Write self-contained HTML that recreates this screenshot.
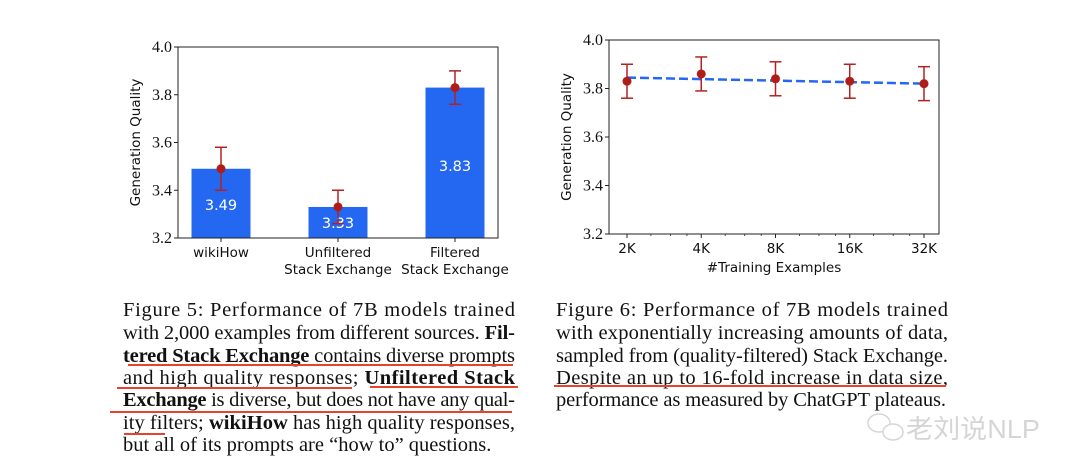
<!DOCTYPE html>
<html><head><meta charset="utf-8">
<style>
html,body{margin:0;padding:0;background:#fff;}
svg{display:block;}
.tk{font-family:"Liberation Serif",serif;font-size:16px;fill:#111;}
.sl{font-family:"DejaVu Sans","Liberation Sans",sans-serif;font-size:13.5px;fill:#111;}
.cap{font-family:"Liberation Serif",serif;font-size:20.5px;fill:#111;}
</style></head>
<body>
<svg id="root" width="1080" height="474" viewBox="0 0 1080 474" xmlns="http://www.w3.org/2000/svg">
<g id="chart1"></g>
<g id="chart2"></g>

<g class="cap">
<text x="123" y="316" textLength="392" lengthAdjust="spacing">Figure 5:  Performance of 7B models trained</text>
<text x="123" y="339" textLength="392" lengthAdjust="spacing">with 2,000 examples from different sources. <tspan font-weight="bold">Fil-</tspan></text>
<text x="123" y="362" textLength="392" lengthAdjust="spacing"><tspan font-weight="bold">tered Stack Exchange</tspan> contains diverse prompts</text>
<text x="123" y="384" textLength="392" lengthAdjust="spacing">and high quality responses; <tspan font-weight="bold">Unfiltered Stack</tspan></text>
<text x="123" y="406" textLength="392" lengthAdjust="spacing"><tspan font-weight="bold">Exchange</tspan> is diverse, but does not have any qual-</text>
<text x="123" y="429" textLength="392" lengthAdjust="spacing">ity filters; <tspan font-weight="bold">wikiHow</tspan> has high quality responses,</text>
<text x="123" y="451">but all of its prompts are “how to” questions.</text>
</g>
<g stroke="#e8412c" stroke-width="2">
<line x1="128" y1="365" x2="513" y2="365"/>
<line x1="117" y1="388" x2="352" y2="388"/>
<line x1="370" y1="387" x2="518" y2="387"/>
<line x1="110" y1="412" x2="512" y2="412"/>
<line x1="124" y1="434" x2="165" y2="434"/>
</g>

<g class="cap">
<text x="556" y="316" textLength="392" lengthAdjust="spacing">Figure 6:  Performance of 7B models trained</text>
<text x="556" y="339" textLength="392" lengthAdjust="spacing">with exponentially increasing amounts of data,</text>
<text x="556" y="362" textLength="392" lengthAdjust="spacing">sampled from (quality-filtered) Stack Exchange.</text>
<text x="556" y="384" textLength="392" lengthAdjust="spacing">Despite an up to 16-fold increase in data size,</text>
<text x="556" y="406" textLength="390" lengthAdjust="spacing">performance as measured by ChatGPT plateaus.</text>
</g>
<line x1="554" y1="386" x2="946" y2="386" stroke="#e8412c" stroke-width="2"/>

<g opacity="0.4">
<ellipse cx="879" cy="423" rx="11" ry="9" fill="none" stroke="#999" stroke-width="1.5"/>
<ellipse cx="893" cy="432" rx="10" ry="8" fill="#fff" stroke="#999" stroke-width="1.5"/>
<text x="906" y="438" font-family="'Liberation Sans','Noto Sans CJK SC',sans-serif" font-size="26" fill="#999" textLength="134" lengthAdjust="spacingAndGlyphs">老刘说NLP</text>
</g>
</svg>
<script>
const NS='http://www.w3.org/2000/svg';
function mk(p,tag,a,txt){const e=document.createElementNS(NS,tag);for(const k in a)e.setAttribute(k,a[k]);if(txt!==undefined)e.textContent=txt;p.appendChild(e);return e;}

// ---- Chart 1 data ----
const cats1=['wikiHow','Unfiltered|Stack Exchange','Filtered|Stack Exchange'];
const vals1=[3.49,3.33,3.83];
const errLo1=[3.40,3.26,3.76];
const errHi1=[3.58,3.40,3.90];
const labels1=['3.49','3.33','3.83'];
const yTicks=[3.2,3.4,3.6,3.8,4.0];
const yTickLabels=['3.2','3.4','3.6','3.8','4.0'];

// ---- Chart 2 data ----
const cats2=['2K','4K','8K','16K','32K'];
const vals2=[3.83,3.86,3.84,3.83,3.82];
const errLo2=[3.76,3.79,3.77,3.76,3.75];
const errHi2=[3.90,3.93,3.91,3.90,3.89];
const trendStart=3.845, trendEnd=3.82;

function axes(g,L,R,T,B,ys,title){
  mk(g,'rect',{x:L,y:T,width:R-L,height:B-T,fill:'none',stroke:'#222','stroke-width':1});
  yTicks.forEach((v,i)=>{const y=ys(v);
    const t=mk(g,'line',{x1:L-4,y1:y,x2:L,y2:y,stroke:'#222'});
    
    const l=mk(g,'text',{x:L-6,y:y+5,'text-anchor':'end',class:'tk'},yTickLabels[i]);
    
  });
  const yt=mk(g,'text',{x:0,y:0,class:'sl','text-anchor':'middle',transform:`translate(${L-38},${(T+B)/2}) rotate(-90)`},title);
  
}
function errbar(g,x,y1,y2,yc){
  mk(g,'line',{x1:x,y1:y1,x2:x,y2:y2,stroke:'#b22222','stroke-width':1.5});
  mk(g,'line',{x1:x-6,y1:y1,x2:x+6,y2:y1,stroke:'#b22222','stroke-width':1.5});
  mk(g,'line',{x1:x-6,y1:y2,x2:x+6,y2:y2,stroke:'#b22222','stroke-width':1.5});
  const c=mk(g,'circle',{cx:x,cy:yc,r:4.5,fill:'#b01d17'});
  
}

// Chart 1
(function(){
  const g=document.getElementById('chart1');
  const L=178,R=498,T=47,B=238;
  const ys=v=>B-(v-3.2)/0.8*(B-T);
  const bw=59, xc=i=>221+i*117;
  cats1.forEach((c,i)=>{
    const r=mk(g,'rect',{x:xc(i)-bw/2,y:ys(vals1[i]),width:bw,height:B-ys(vals1[i]),fill:'#2468f2'});
    
    
    const t=mk(g,'text',{x:xc(i),y:ys(vals1[i])+(B-ys(vals1[i]))*0.52+5,'text-anchor':'middle',class:'sl',style:'fill:#fff;font-size:14.5px'},labels1[i]);
    
    
    errbar(g,xc(i),ys(errHi1[i]),ys(errLo1[i]),ys(vals1[i]));
    mk(g,'line',{x1:xc(i),y1:B,x2:xc(i),y2:B+4,stroke:'#222'});
    c.split('|').forEach((s,j)=>{
      const l=mk(g,'text',{x:xc(i),y:B+19+j*17,'text-anchor':'middle',class:'sl'},s);
      
      
    });
  });
  axes(g,L,R,T,B,ys,'Generation Quality');
})();

// Chart 2
(function(){
  const g=document.getElementById('chart2');
  const L=609,R=939,T=40,B=234;
  const ys=v=>B-(v-3.2)/0.8*(B-T);
  const xc=i=>627+i*74.25;
  // log minor ticks
  for(let i=0;i<cats2.length-1;i++){[1.25,1.5,1.75].forEach(f=>{
    const x=xc(i)+Math.log2(f)*74.25;
    mk(g,'line',{x1:x,y1:B,x2:x,y2:B+2,stroke:'#222','stroke-width':0.8});
  });}
  const ln=mk(g,'line',{x1:xc(0),y1:ys(trendStart),x2:xc(cats2.length-1),y2:ys(trendEnd),stroke:'#2468f2','stroke-width':2.5,'stroke-dasharray':'9,4'});
  
  
  cats2.forEach((c,i)=>{
    errbar(g,xc(i),ys(errHi2[i]),ys(errLo2[i]),ys(vals2[i]));
    mk(g,'line',{x1:xc(i),y1:B,x2:xc(i),y2:B+4,stroke:'#222'});
    const l=mk(g,'text',{x:xc(i),y:B+19,'text-anchor':'middle',class:'sl'},c);
    
    
  });
  const xt=mk(g,'text',{x:(L+R)/2,y:B+38,'text-anchor':'middle',class:'sl'},'#Training Examples');
  
  
  axes(g,L,R,T,B,ys,'Generation Quality');
})();
</script>
</body></html>
